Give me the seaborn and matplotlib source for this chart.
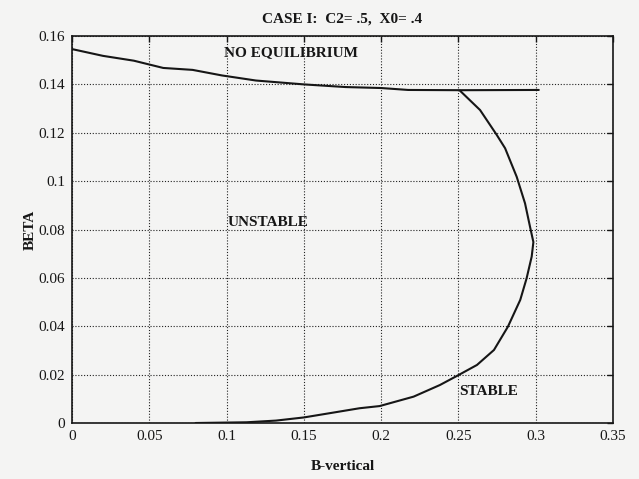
import matplotlib
matplotlib.use("Agg")
import matplotlib.pyplot as plt
import seaborn as sns
import pandas as pd

# Boundary between "no equilibrium" and the equilibrium region
upper_b = [0.0, 0.020, 0.040, 0.059, 0.078, 0.097, 0.119, 0.150, 0.177, 0.200, 0.2175, 0.252, 0.302]
upper_beta = [0.1546, 0.1518, 0.1498, 0.1468, 0.1460, 0.1437, 0.1416, 0.1400, 0.1389, 0.1385, 0.1377, 0.1376, 0.1377]

# Stability boundary (stable region lies to the right)
stab_b = [0.080, 0.113, 0.132, 0.150, 0.169, 0.186, 0.199, 0.221, 0.238, 0.250, 0.262, 0.273,
          0.282, 0.290, 0.2941, 0.2974, 0.2985, 0.2963, 0.2931, 0.2877, 0.2802, 0.2748,
          0.2640, 0.2510]
stab_beta = [0.0, 0.0003, 0.0010, 0.0023, 0.0043, 0.0061, 0.0070, 0.0109, 0.0157, 0.0198, 0.0240,
             0.0302, 0.0398, 0.0509, 0.0598, 0.0688, 0.0748, 0.0812, 0.0908, 0.1018,
             0.1136, 0.1191, 0.1294, 0.1374]

x_ticks = [0, 0.05, 0.1, 0.15, 0.2, 0.25, 0.3, 0.35]
x_ticklabels = ["0", "0.05", "0.1", "0.15", "0.2", "0.25", "0.3", "0.35"]
y_ticks = [0, 0.02, 0.04, 0.06, 0.08, 0.1, 0.12, 0.14, 0.16]
y_ticklabels = ["0", "0.02", "0.04", "0.06", "0.08", "0.1", "0.12", "0.14", "0.16"]

region_labels = ["NO EQUILIBRIUM", "UNSTABLE", "STABLE"]
region_x = [0.1417, 0.127, 0.2695]
region_y = [0.153, 0.0831, 0.0132]

sns.set_theme(style="white")
plt.rcParams["font.family"] = ["Liberation Serif", "DejaVu Serif"]

bg = "#f4f4f3"
ink = "#161616"

fig = plt.figure(figsize=(6.39, 4.79), dpi=100, facecolor=bg)
ax = fig.add_axes([0.1127, 0.1169, 0.8466, 0.8079], facecolor=bg)

upper_df = pd.DataFrame({"b": upper_b, "beta": upper_beta})
stab_df = pd.DataFrame({"b": stab_b, "beta": stab_beta})

sns.lineplot(data=upper_df, x="b", y="beta", sort=False, estimator=None,
             color=ink, linewidth=1.5, ax=ax)
sns.lineplot(data=stab_df, x="b", y="beta", sort=False, estimator=None,
             color=ink, linewidth=1.5, ax=ax)

ax.set_xlim(0, 0.35)
ax.set_ylim(0, 0.16)
ax.set_xticks(x_ticks)
ax.set_xticklabels(x_ticklabels)
ax.set_yticks(y_ticks)
ax.set_yticklabels(y_ticklabels)

ax.grid(True, color="#222222", linestyle=(0, (1, 1.6)), linewidth=0.8)
ax.tick_params(axis="both", direction="in", length=4, width=1, color=ink,
               labelsize=11, labelcolor=ink, top=True, right=True, pad=5)
for s in ax.spines.values():
    s.set_color(ink)
    s.set_linewidth(1.2)

for lbl, lx, ly in zip(region_labels, region_x, region_y):
    ax.text(lx, ly, lbl, ha="center", va="center", fontsize=11,
            fontweight="bold", color=ink)

ax.set_title("CASE I:  C2= .5,  X0= .4", fontsize=11, fontweight="bold",
             color=ink, pad=10)
ax.set_xlabel("B-vertical", fontsize=11, fontweight="bold", color=ink, labelpad=12)
ax.set_ylabel("BETA", fontsize=11, fontweight="bold", color=ink, labelpad=1)

fig.savefig("out.png", dpi=100, facecolor=bg)
